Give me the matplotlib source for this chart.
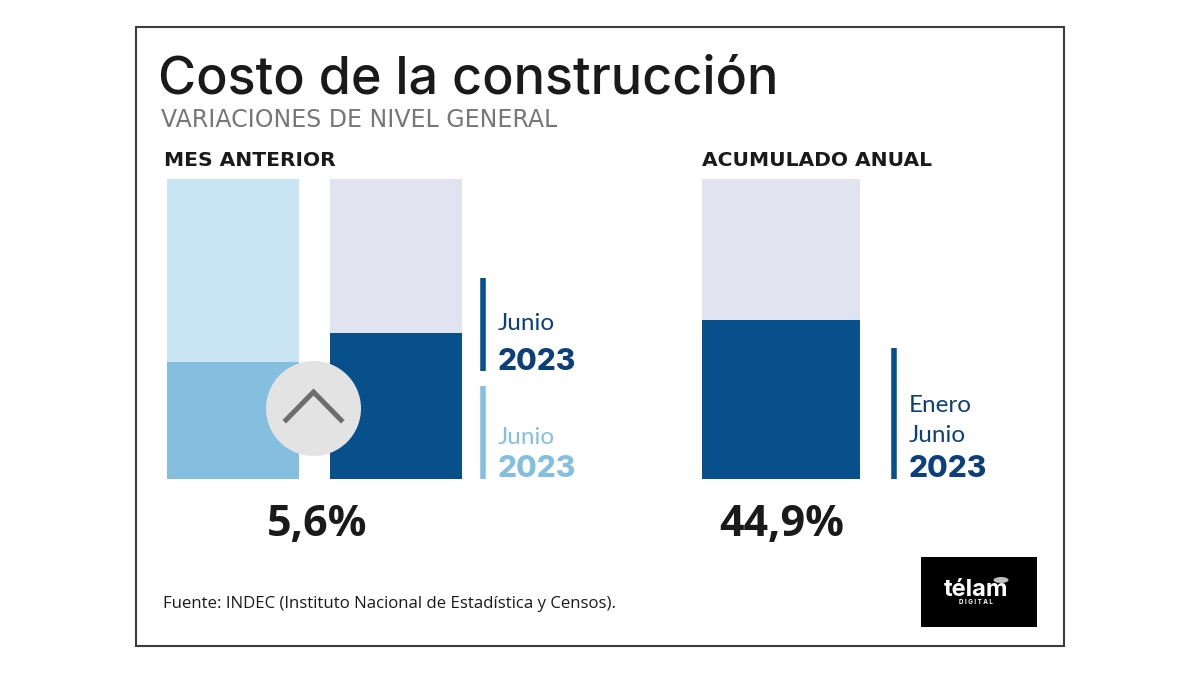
import matplotlib
matplotlib.use('Agg')
import matplotlib.pyplot as plt
from matplotlib.patches import Rectangle, Circle, Ellipse

title = 'Costo de la construcción'
subtitle = 'VARIACIONES DE NIVEL GENERAL'
left_header = 'MES ANTERIOR'
right_header = 'ACUMULADO ANUAL'
source = 'Fuente: INDEC (Instituto Nacional de Estadística y Censos).'

# filled share of each block (% of block height)
left_fill = [39, 48.7]
left_back = [100, 100]
right_fill = [53]
right_back = [100]
left_pct = '5,6%'
right_pct = '44,9%'

NAVY = '#07508c'
SKY = '#84bfe0'
PALE_SKY = '#c9e4f2'
PALE_NAVY = '#e1e3f0'
TEXT_NAVY = '#0d3f7a'

W, H = 1200, 675


def panel(x0, x1, y0, y1):
    # axes placed by pixel box, y0 is the top edge
    a = fig.add_axes([x0 / W, 1 - y1 / H, (x1 - x0) / W, (y1 - y0) / H])
    a.axis('off')
    a.set_ylim(0, 100)
    return a


fig = plt.figure(figsize=(12, 6.75), dpi=100)
ax = fig.add_axes([0, 0, 1, 1])
ax.set_xlim(0, W)
ax.set_ylim(H, 0)
ax.axis('off')

ax.add_patch(Rectangle((136, 27), 928, 619, fc='white', ec='#3c3c3c', lw=1.5))

ax.text(158, 80, title, fontsize=37.5, family='Inter', weight='medium', color='#1a1a1a', va='center')
ax.text(161, 120, subtitle, fontsize=17, family='DejaVu Sans', color='#777777', va='center')
ax.text(164, 161, left_header, fontsize=14.6, family='DejaVu Sans', weight='bold', color='#1a1a1a', va='center')
ax.text(702, 161, right_header, fontsize=14.6, family='DejaVu Sans', weight='bold', color='#1a1a1a', va='center')

# left blocks
bars_l = panel(167, 462, 179, 479)
bars_l.set_xlim(0, 295)
bars_l.bar([66, 229], left_back, width=132, color=[PALE_SKY, PALE_NAVY])
bars_l.bar([66, 229], left_fill, width=132, color=[SKY, NAVY])

# right block
bars_r = panel(702, 860, 179, 479)
bars_r.set_xlim(0, 158)
bars_r.bar([79], right_back, width=158, color=PALE_NAVY)
bars_r.bar([79], right_fill, width=158, color=NAVY)

# arrow badge, on top of the bars
over = fig.add_axes([0, 0, 1, 1], facecolor='none')
over.set_xlim(0, W)
over.set_ylim(H, 0)
over.axis('off')
over.add_patch(Circle((313.5, 408.5), 47.5, fc='#e3e3e3', ec='none'))
over.plot([286, 313.5, 341], [420, 392, 420], color='#6d6d6d', lw=3.6, solid_joinstyle='miter')

# legend marks
over.plot([483, 483], [278, 371], color=NAVY, lw=4, solid_capstyle='butt')
over.plot([483, 483], [386, 479], color=SKY, lw=4, solid_capstyle='butt')
over.plot([894, 894], [348, 479], color=NAVY, lw=4, solid_capstyle='butt')

over.text(498, 324, 'Junio', fontsize=17.5, family='Lato', color=TEXT_NAVY, va='center')
over.text(498, 362, '2023', fontsize=21.5, family='Inter', weight='heavy', color=TEXT_NAVY, va='center')
over.text(498, 437, 'Junio', fontsize=17.5, family='Lato', color=SKY, va='center')
over.text(498, 469, '2023', fontsize=21.5, family='Inter', weight='heavy', color=SKY, va='center')
over.text(909, 406, 'Enero', fontsize=17.5, family='Lato', color=TEXT_NAVY, va='center')
over.text(909, 436, 'Junio', fontsize=17.5, family='Lato', color=TEXT_NAVY, va='center')
over.text(909, 469, '2023', fontsize=21.5, family='Inter', weight='heavy', color=TEXT_NAVY, va='center')

over.text(317, 525, left_pct, fontsize=31, family='Open Sans', weight='bold', color='#1a1a1a', ha='center', va='center')
over.text(782, 525, right_pct, fontsize=31, family='Open Sans', weight='bold', color='#1a1a1a', ha='center', va='center')

over.text(163, 604, source, fontsize=12.05, family='Open Sans', weight='medium', color='#1a1a1a', va='center')

# logo
over.add_patch(Rectangle((921, 557), 116, 70, fc='black', ec='none'))
over.add_patch(Ellipse((1001, 580), 15, 6, fc='#bdbdbd', ec='none'))
over.text(976, 590, 'télam', fontsize=17, family='Inter', weight='bold', color='white', ha='center', va='center')
over.text(976, 602, 'D I G I T A L', fontsize=4.5, family='Inter', weight='bold', color='white', ha='center', va='center')

plt.savefig('out.png', dpi=100)
